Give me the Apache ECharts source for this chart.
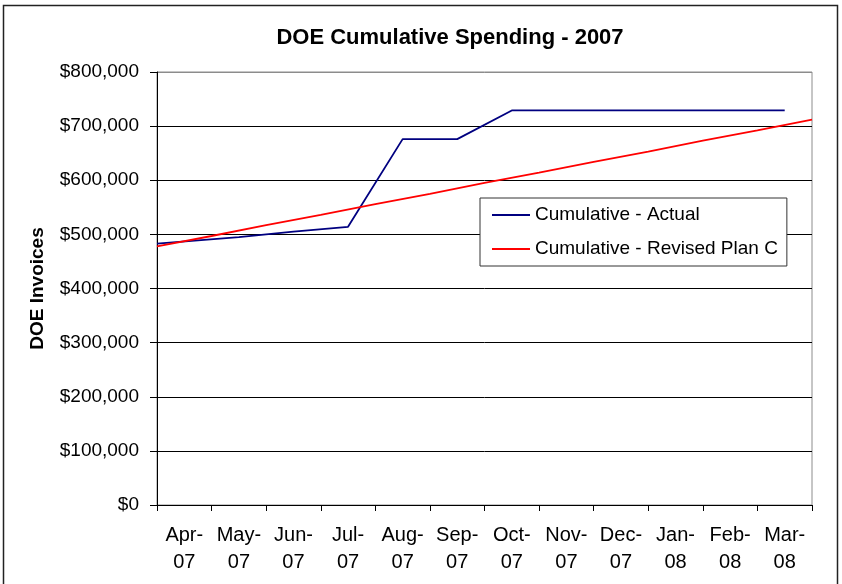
<!DOCTYPE html>
<html>
<head>
<meta charset="utf-8">
<script src="https://cdn.jsdelivr.net/npm/echarts@6/dist/echarts.min.js"></script>
<style>
html,body{margin:0;padding:0;background:#fff;}
#chart{width:842px;height:584px;}
</style>
</head>
<body>
<div id="chart"></div>
<script>
// ---- data ----
const categories = ['Apr-07','May-07','Jun-07','Jul-07','Aug-07','Sep-07','Oct-07','Nov-07','Dec-07','Jan-08','Feb-08','Mar-08'];
// months elapsed since start of Apr-07
const actualMonths = [0, 1.5, 2.5, 3.5, 4.5, 5.5, 6.5, 7.5, 8.5, 9.5, 10.5, 11.5];
const actualValues = [483000, 495000, 505000, 514000, 676000, 676000, 729000, 729000, 729000, 729000, 729000, 729000];
const planMonths = [0, 1, 2, 3, 4, 5, 6, 7, 8, 9, 10, 11, 12];
const planValues = [478000, 497000, 517000, 536000, 556000, 575000, 595000, 614000, 634000, 653000, 673000, 692000, 712000];
const yTicks = [0, 100000, 200000, 300000, 400000, 500000, 600000, 700000, 800000];
const seriesNames = ['Cumulative - Actual', 'Cumulative - Revised Plan C'];
const titleText = 'DOE Cumulative Spending - 2007';
const yName = 'DOE Invoices';

const FONT = "'Liberation Sans', Arial, sans-serif";
const chart = echarts.init(document.getElementById('chart'), null, {renderer: 'canvas'});

const splitColors = yTicks.map((v, i) => i === yTicks.length - 1 ? '#8c8c8c' : '#000');

chart.setOption({
  animation: false,
  backgroundColor: '#fff',
  textStyle: {fontFamily: FONT},
  graphic: [{
    type: 'rect', z: -1, silent: true,
    shape: {x: 3.5, y: 5.5, width: 834, height: 600},
    style: {fill: 'none', stroke: '#222', lineWidth: 1.5}
  }],
  title: {
    text: titleText,
    left: 445, top: 22, textAlign: 'center',
    textStyle: {fontFamily: FONT, fontSize: 22, fontWeight: 'bold', color: '#000'}
  },
  grid: {
    left: 157, right: 30, top: 72, bottom: 79,
    show: true, borderColor: '#8c8c8c', borderWidth: 1, backgroundColor: 'transparent'
  },
  legend: {
    orient: 'vertical',
    left: 480, top: 198,
    padding: [7, 9, 7, 12],
    backgroundColor: '#fff',
    borderColor: '#333', borderWidth: 1,
    itemWidth: 38, itemHeight: 2, itemGap: 14,
    icon: 'rect',
    textStyle: {fontFamily: FONT, fontSize: 19, color: '#000', lineHeight: 20, padding: [0, 0, 0, 0]},
    data: seriesNames
  },
  xAxis: [{
    type: 'category',
    data: categories,
    boundaryGap: true,
    axisLine: {lineStyle: {color: '#000', width: 1}},
    axisTick: {show: true, interval: 0, length: 6, lineStyle: {color: '#000'}},
    axisLabel: {
      interval: 0, margin: 17, fontFamily: FONT, fontSize: 20, lineHeight: 27, color: '#000',
      formatter: v => v.replace('-', '-\n')
    },
    splitLine: {show: false}
  }, {
    type: 'value', min: 0, max: 12, show: false
  }],
  yAxis: {
    type: 'value', min: 0, max: 800000, interval: 100000,
    name: yName, nameLocation: 'middle', nameGap: 110,
    nameTextStyle: {fontFamily: FONT, fontSize: 19, fontWeight: 'bold', color: '#000'},
    axisLine: {show: true, lineStyle: {color: '#000', width: 1}},
    axisTick: {show: true, length: 7, lineStyle: {color: '#000'}},
    axisLabel: {
      margin: 18, fontFamily: FONT, fontSize: 19, color: '#000',
      formatter: v => '$' + v.toLocaleString('en-US')
    },
    splitLine: {show: true, lineStyle: {color: splitColors, width: 1}}
  },
  series: [{
    name: seriesNames[0], type: 'line', xAxisIndex: 1,
    data: actualMonths.map((m, i) => [m, actualValues[i]]),
    symbol: 'none', color: '#000080',
    lineStyle: {color: '#000080', width: 1.8}
  }, {
    name: seriesNames[1], type: 'line', xAxisIndex: 1,
    data: planMonths.map((m, i) => [m, planValues[i]]),
    symbol: 'none', color: '#ff0000',
    lineStyle: {color: '#ff0000', width: 1.8}
  }]
});
</script>
</body>
</html>
